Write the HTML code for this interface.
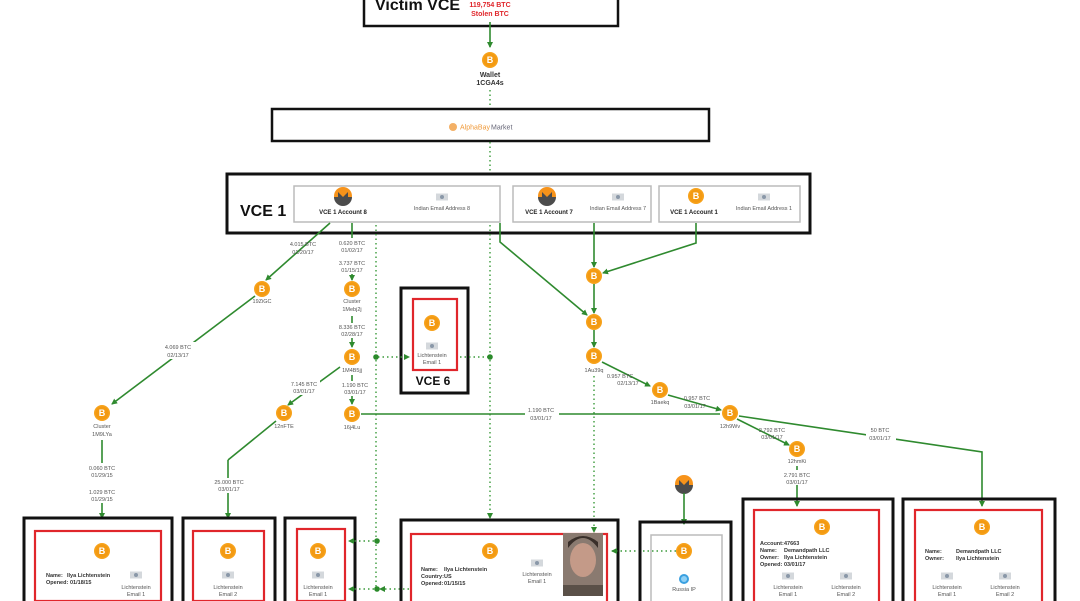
<!DOCTYPE html>
<html><head><meta charset="utf-8"><style>
html,body{margin:0;padding:0;background:#fff;}
svg{display:block;font-family:"Liberation Sans",sans-serif;}
.t{font-size:5.5px;fill:#555;text-anchor:middle;}
.tb{font-size:6px;fill:#222;font-weight:bold;}
.tl{font-size:5.5px;fill:#333;}
.g{stroke:#2f8a2f;stroke-width:1.6;fill:none;}
.d{stroke:#3a9a3a;stroke-width:1.4;fill:none;stroke-dasharray:1.5 3;}
.ob{fill:none;stroke:#111;stroke-width:3;}
.rb{fill:none;stroke:#e0262b;stroke-width:2.2;}
.gb{fill:none;stroke:#bbb;stroke-width:1.5;}
</style></head><body>
<svg width="1080" height="601" viewBox="0 0 1080 601">
<defs>
<marker id="a" markerWidth="6" markerHeight="6" refX="5" refY="3" orient="auto" markerUnits="userSpaceOnUse"><path d="M0,0 L6,3 L0,6z" fill="#2f8a2f"/></marker>
<g id="c"><circle r="8" fill="#f7a21b"/><circle r="6.5" fill="#f39a12"/><text y="3" font-size="9" font-weight="bold" fill="#fff" text-anchor="middle">B</text></g>
<g id="m"><circle r="9" fill="#f7931a"/><path d="M-9,1 L-5,1 L-5,-4 L0,1 L5,-4 L5,1 L9,1 A9,9 0 0 1 -9,1z" fill="#4c4c4c"/></g>
<g id="e"><rect x="-6" y="-3.5" width="12" height="7" fill="#d4d8dc"/><circle r="2" fill="#8a98a8"/></g>
</defs>

<!-- Victim VCE -->
<rect x="364" y="-4" width="254" height="30" fill="none" stroke="#111" stroke-width="2.5"/>
<text x="375" y="10" font-size="16" font-weight="bold" fill="#111">Victim VCE</text>
<text x="490" y="7" font-size="7" font-weight="bold" fill="#e0262b" text-anchor="middle">119,754 BTC</text>
<text x="490" y="16" font-size="7" font-weight="bold" fill="#e0262b" text-anchor="middle">Stolen BTC</text>
<line class="g" x1="490" y1="22" x2="490" y2="47" marker-end="url(#a)"/>
<use href="#c" x="490" y="60"/>
<text x="490" y="77" font-size="7" font-weight="bold" fill="#333" text-anchor="middle">Wallet</text>
<text x="490" y="85" font-size="7" font-weight="bold" fill="#333" text-anchor="middle">1CGA4s</text>
<line class="d" x1="490" y1="90" x2="490" y2="108"/>
<rect x="272" y="109" width="437" height="32" fill="none" stroke="#111" stroke-width="2.5"/>
<circle cx="453" cy="127" r="4" fill="#f3b066"/>
<text x="460" y="129.5" font-size="7" fill="#f09a3a">AlphaBay</text>
<text x="491" y="129.5" font-size="7" fill="#667">Market</text>
<line class="d" x1="490" y1="142" x2="490" y2="172"/>

<!-- VCE1 -->
<rect x="227" y="174" width="583" height="59" class="ob"/>
<text x="240" y="216" font-size="16" font-weight="bold" fill="#111">VCE 1</text>
<rect x="294" y="186" width="206" height="36" class="gb"/>
<rect x="513" y="186" width="138" height="36" class="gb"/>
<rect x="659" y="186" width="141" height="36" class="gb"/>
<use href="#m" x="343" y="196"/><text x="343" y="214" class="tb" text-anchor="middle">VCE 1 Account 8</text>
<use href="#e" x="442" y="197"/><text x="442" y="210" class="t">Indian Email Address 8</text>
<use href="#m" x="547" y="196"/><text x="549" y="214" class="tb" text-anchor="middle">VCE 1 Account 7</text>
<use href="#e" x="618" y="197"/><text x="618" y="210" class="t">Indian Email Address 7</text>
<use href="#c" x="696" y="196"/><text x="694" y="214" class="tb" text-anchor="middle">VCE 1 Account 1</text>
<use href="#e" x="764" y="197"/><text x="764" y="210" class="t">Indian Email Address 1</text>

<!-- dotted verticals -->
<line class="d" x1="376" y1="225" x2="376" y2="588"/>
<line class="d" x1="490" y1="225" x2="490" y2="518" marker-end="url(#a)"/>

<!-- left chains -->
<line class="g" x1="330" y1="223" x2="266" y2="280" marker-end="url(#a)"/>
<text x="303" y="246" class="t">4.015 BTC</text><text x="303" y="254" class="t">01/20/17</text>
<use href="#c" x="262" y="289"/><text x="262" y="303" class="t">19ZiGC</text>
<line class="g" x1="255" y1="296" x2="112" y2="404" marker-end="url(#a)"/>
<rect x="160" y="342" width="36" height="17" fill="#fff"/>
<text x="178" y="349" class="t">4.069 BTC</text><text x="178" y="357" class="t">02/13/17</text>
<use href="#c" x="102" y="413"/><text x="102" y="428" class="t">Cluster</text><text x="102" y="436" class="t">1M9LYa</text>
<line class="g" x1="102" y1="440" x2="102" y2="518" marker-end="url(#a)"/>
<rect x="86" y="463" width="32" height="40" fill="#fff"/>
<text x="102" y="470" class="t">0.060 BTC</text><text x="102" y="477" class="t">01/29/15</text>
<text x="102" y="494" class="t">1.029 BTC</text><text x="102" y="501" class="t">01/29/15</text>

<line class="g" x1="352" y1="223" x2="352" y2="280" marker-end="url(#a)"/>
<rect x="336" y="238" width="32" height="36" fill="#fff"/>
<text x="352" y="245" class="t">0.620 BTC</text><text x="352" y="252" class="t">01/02/17</text>
<text x="352" y="265" class="t">3.737 BTC</text><text x="352" y="272" class="t">01/15/17</text>
<use href="#c" x="352" y="289"/><text x="352" y="303" class="t">Cluster</text><text x="352" y="311" class="t">1Mebj2j</text>
<line class="g" x1="352" y1="316" x2="352" y2="347" marker-end="url(#a)"/>
<rect x="336" y="323" width="32" height="15" fill="#fff"/>
<text x="352" y="329" class="t">8.336 BTC</text><text x="352" y="336" class="t">02/28/17</text>
<use href="#c" x="352" y="357"/><text x="352" y="372" class="t">1M4B5jj</text>
<line class="g" x1="340" y1="367" x2="288" y2="405" marker-end="url(#a)"/>
<rect x="288" y="380" width="32" height="15" fill="#fff"/>
<text x="304" y="386" class="t">7.145 BTC</text><text x="304" y="393" class="t">03/01/17</text>
<use href="#c" x="284" y="413"/><text x="284" y="428" class="t">12nFTE</text>
<line class="g" x1="276" y1="421" x2="228" y2="460"/>
<line class="g" x1="228" y1="460" x2="228" y2="518" marker-end="url(#a)"/>
<rect x="212" y="478" width="34" height="15" fill="#fff"/>
<text x="229" y="484" class="t">25.000 BTC</text><text x="229" y="491" class="t">03/01/17</text>
<line class="g" x1="352" y1="375" x2="352" y2="404" marker-end="url(#a)"/>
<rect x="338" y="381" width="32" height="15" fill="#fff"/>
<text x="355" y="387" class="t">1.190 BTC</text><text x="355" y="394" class="t">03/01/17</text>
<use href="#c" x="352" y="414"/><text x="352" y="429" class="t">16j4Lu</text>
<line class="g" x1="361" y1="414" x2="720" y2="414"/>
<rect x="525" y="406" width="34" height="15" fill="#fff"/>
<text x="541" y="412" class="t">1.190 BTC</text><text x="541" y="420" class="t">03/01/17</text>

<!-- VCE6 -->
<rect x="401" y="288" width="67" height="105" class="ob" fill="#fff"/>
<rect x="413" y="299" width="44" height="71" class="rb"/>
<use href="#c" x="432" y="323"/><use href="#e" x="432" y="346"/>
<text x="432" y="357" class="t" font-size="4.5">Lichtenstein</text><text x="432" y="364" class="t" font-size="4.5">Email 1</text>
<text x="433" y="385" font-size="12" font-weight="bold" fill="#111" text-anchor="middle">VCE 6</text>
<line class="d" x1="378" y1="357" x2="409" y2="357" marker-end="url(#a)"/>
<line class="d" x1="460" y1="357" x2="488" y2="357"/>
<circle cx="376" cy="357" r="2.8" fill="#2a8a2a"/><circle cx="490" cy="357" r="2.8" fill="#2a8a2a"/>

<!-- right chains -->
<polyline class="g" points="500,223 500,242 587,315" marker-end="url(#a)"/>
<line class="g" x1="594" y1="223" x2="594" y2="267" marker-end="url(#a)"/>
<polyline class="g" points="696,223 696,243 603,273" marker-end="url(#a)"/>
<use href="#c" x="594" y="276"/>
<line class="g" x1="594" y1="284" x2="594" y2="313" marker-end="url(#a)"/>
<use href="#c" x="594" y="322"/>
<line class="g" x1="594" y1="330" x2="594" y2="347" marker-end="url(#a)"/>
<use href="#c" x="594" y="356"/><text x="594" y="372" class="t">1Au39q</text>
<line class="d" x1="594" y1="376" x2="594" y2="532" marker-end="url(#a)"/>
<line class="g" x1="602" y1="362" x2="650" y2="386" marker-end="url(#a)"/>
<text x="620" y="378" class="t">0.957 BTC</text><text x="628" y="385" class="t">02/13/17</text>
<use href="#c" x="660" y="390"/><text x="660" y="404" class="t">1Baekq</text>
<line class="g" x1="668" y1="395" x2="721" y2="410" marker-end="url(#a)"/>
<text x="697" y="400" class="t">0.957 BTC</text><text x="695" y="408" class="t">03/01/17</text>
<use href="#c" x="730" y="413"/><text x="730" y="428" class="t">12h9Wv</text>
<line class="g" x1="737" y1="419" x2="789" y2="445" marker-end="url(#a)"/>
<text x="772" y="432" class="t">2.792 BTC</text><text x="772" y="439" class="t">03/01/17</text>
<use href="#c" x="797" y="449"/><text x="797" y="463" class="t">12hmKi</text>
<line class="g" x1="797" y1="466" x2="797" y2="506" marker-end="url(#a)"/>
<rect x="781" y="470" width="34" height="15" fill="#fff"/>
<text x="797" y="477" class="t">2.791 BTC</text><text x="797" y="484" class="t">03/01/17</text>
<polyline class="g" points="739,416 982,452 982,506" marker-end="url(#a)"/>
<rect x="866" y="426" width="30" height="15" fill="#fff"/>
<text x="880" y="432" class="t">50 BTC</text><text x="880" y="440" class="t">03/01/17</text>
<use href="#m" x="684" y="484"/>
<line class="g" x1="684" y1="493" x2="684" y2="524" marker-end="url(#a)"/>

<!-- bottom boxes -->
<rect x="24" y="518" width="148" height="90" class="ob"/>
<rect x="35" y="531" width="126" height="70" class="rb"/>
<use href="#c" x="102" y="551"/>
<text x="46" y="577" class="tl" font-weight="bold">Name:</text><text x="67" y="577" class="tl" font-weight="bold">Ilya Lichtenstein</text>
<text x="46" y="584" class="tl" font-weight="bold">Opened:</text><text x="70" y="584" class="tl" font-weight="bold">01/18/15</text>
<use href="#e" x="136" y="575"/><text x="136" y="589" class="t" font-size="4.5">Lichtenstein</text><text x="136" y="596" class="t" font-size="4.5">Email 1</text>

<rect x="183" y="518" width="92" height="90" class="ob"/>
<rect x="193" y="531" width="71" height="70" class="rb"/>
<use href="#c" x="228" y="551"/><use href="#e" x="228" y="575"/>
<text x="228" y="589" class="t" font-size="4.5">Lichtenstein</text><text x="228" y="596" class="t" font-size="4.5">Email 2</text>

<rect x="285" y="518" width="70" height="90" class="ob"/>
<rect x="297" y="529" width="48" height="72" class="rb"/>
<use href="#c" x="318" y="551"/><use href="#e" x="318" y="575"/>
<text x="318" y="589" class="t" font-size="4.5">Lichtenstein</text><text x="318" y="596" class="t" font-size="4.5">Email 1</text>
<line class="d" x1="374" y1="541" x2="349" y2="541" marker-end="url(#a)"/>
<line class="d" x1="374" y1="589" x2="349" y2="589" marker-end="url(#a)"/>
<line class="d" x1="409" y1="589" x2="380" y2="589" marker-end="url(#a)"/>
<circle cx="377" cy="541" r="2.8" fill="#2a8a2a"/><circle cx="377" cy="589" r="2.8" fill="#2a8a2a"/>

<rect x="401" y="520" width="217" height="90" class="ob"/>
<rect x="411" y="534" width="196" height="70" class="rb"/>
<use href="#c" x="490" y="551"/>
<text x="421" y="571" class="tl" font-weight="bold">Name:</text><text x="444" y="571" class="tl" font-weight="bold">Ilya Lichtenstein</text>
<text x="421" y="578" class="tl" font-weight="bold">Country:</text><text x="444" y="578" class="tl" font-weight="bold">US</text>
<text x="421" y="585" class="tl" font-weight="bold">Opened:</text><text x="444" y="585" class="tl" font-weight="bold">01/15/15</text>
<use href="#e" x="537" y="563"/><text x="537" y="576" class="t" font-size="4.5">Lichtenstein</text><text x="537" y="583" class="t" font-size="4.5">Email 1</text>
<rect x="563" y="533" width="40" height="63" fill="#8a7a70"/>
<ellipse cx="583" cy="560" rx="13" ry="17" fill="#c49a88"/>
<path d="M568,548 Q583,528 598,548 L598,542 Q583,530 568,542z" fill="#3a2f2a"/>
<rect x="563" y="585" width="40" height="11" fill="#5a5048"/>
<line class="d" x1="676" y1="551" x2="612" y2="551" marker-end="url(#a)"/>

<rect x="640" y="522" width="91" height="90" class="ob"/>
<rect x="651" y="535" width="71" height="70" class="gb"/>
<use href="#c" x="684" y="551"/>
<circle cx="684" cy="579" r="5" fill="#3aa0e0"/><circle cx="684" cy="579" r="3" fill="#8fd0f5"/>
<text x="684" y="591" class="t" font-size="4.5">Russia IP</text>

<rect x="743" y="499" width="150" height="110" class="ob"/>
<rect x="754" y="510" width="125" height="95" class="rb"/>
<use href="#c" x="822" y="527"/>
<text x="760" y="545" class="tl" font-weight="bold">Account:</text><text x="784" y="545" class="tl" font-weight="bold">47663</text>
<text x="760" y="552" class="tl" font-weight="bold">Name:</text><text x="784" y="552" class="tl" font-weight="bold">Demandpath LLC</text>
<text x="760" y="559" class="tl" font-weight="bold">Owner:</text><text x="784" y="559" class="tl" font-weight="bold">Ilya Lichtenstein</text>
<text x="760" y="566" class="tl" font-weight="bold">Opened:</text><text x="784" y="566" class="tl" font-weight="bold">03/01/17</text>
<use href="#e" x="788" y="576"/><text x="788" y="589" class="t" font-size="4.5">Lichtenstein</text><text x="788" y="596" class="t" font-size="4.5">Email 1</text>
<use href="#e" x="846" y="576"/><text x="846" y="589" class="t" font-size="4.5">Lichtenstein</text><text x="846" y="596" class="t" font-size="4.5">Email 2</text>

<rect x="903" y="499" width="152" height="110" class="ob"/>
<rect x="915" y="510" width="127" height="95" class="rb"/>
<use href="#c" x="982" y="527"/>
<text x="925" y="553" class="tl" font-weight="bold">Name:</text><text x="956" y="553" class="tl" font-weight="bold">Demandpath LLC</text>
<text x="925" y="560" class="tl" font-weight="bold">Owner:</text><text x="956" y="560" class="tl" font-weight="bold">Ilya Lichtenstein</text>
<use href="#e" x="947" y="576"/><text x="947" y="589" class="t" font-size="4.5">Lichtenstein</text><text x="947" y="596" class="t" font-size="4.5">Email 1</text>
<use href="#e" x="1005" y="576"/><text x="1005" y="589" class="t" font-size="4.5">Lichtenstein</text><text x="1005" y="596" class="t" font-size="4.5">Email 2</text>
</svg>
</body></html>
